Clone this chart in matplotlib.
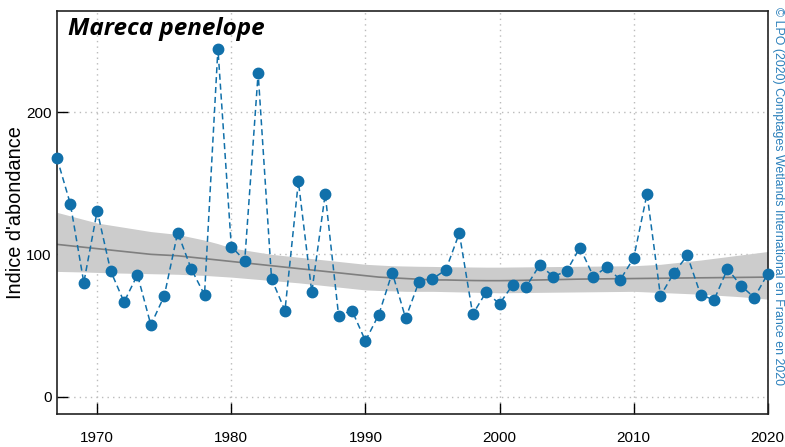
import matplotlib
matplotlib.use("Agg")
import matplotlib.pyplot as plt
import numpy as np

years = list(range(1967, 2021))
index_values = [167.6, 135.3, 80.2, 130.6, 88.4, 66.5, 85.6, 50.4, 70.8, 115.3,
                90.0, 71.5, 244.5, 105.5, 95.6, 227.4, 82.8, 60.5, 151.2, 73.4,
                142.5, 57.0, 60.5, 39.2, 57.7, 87.2, 55.1, 80.9, 82.8, 89.1,
                114.9, 57.9, 73.4, 65.2, 78.8, 77.4, 92.6, 84.4, 88.2, 104.8,
                84.4, 91.0, 82.1, 97.3, 142.5, 70.8, 86.8, 99.2, 71.5, 68.0,
                89.8, 78.0, 69.6, 86.3]

trend = [107, 106, 105, 104, 103, 102, 101, 100, 99.5, 99, 98, 97, 96, 95,
         94, 93, 92, 91, 90, 89, 88, 87, 86, 85, 84, 83.5, 83, 82.5, 82, 82,
         81.8, 81.6, 81.5, 81.5, 81.6, 81.8, 82, 82.2, 82.4, 82.6, 82.7, 82.8,
         82.9, 83, 83.1, 83.2, 83.3, 83.4, 83.5, 83.6, 83.7, 83.8, 83.9, 84]
trend_low = [88, 87.8, 87.6, 87.3, 87, 86.8, 86.6, 86.4, 86.2, 86, 85.6, 85.2,
             84.6, 84, 83.2, 82.4, 81.6, 80.8, 80, 79, 78, 77, 76, 75, 74.6,
             74.3, 74, 74, 74, 73.8, 73.6, 73.4, 73.2, 73, 73.1, 73.2, 73.3,
             73.4, 73.5, 73.6, 73.7, 73.8, 73.9, 74, 73.6, 73.2, 72.8, 72.4,
             72, 71.4, 70.8, 70.2, 69.4, 68.5]
trend_high = [129.5, 127, 124.5, 122, 120.5, 119, 117.5, 116, 115, 114, 112,
              110, 107.5, 104.5, 103, 101.5, 100, 99, 98, 97, 96, 95, 94, 93,
              92.5, 92, 91.8, 91.6, 91.5, 91.3, 91.2, 91.1, 91, 91, 91.1, 91.2,
              91.3, 91.4, 91.5, 91.6, 91.7, 91.8, 91.9, 92, 92.5, 93, 94, 95,
              96, 97.2, 98.4, 99.6, 100.8, 102]

x_ticks = [1970, 1980, 1990, 2000, 2010, 2020]
y_ticks = [0, 100, 200]

species = "Mareca penelope"
y_label = "Indice d'abondance"
credit = "© LPO (2020) Comptages Wetlands International en France en 2020"

blue = "#1170aa"
plt.rcParams['font.family'] = ['Liberation Sans Narrow', 'Liberation Sans', 'DejaVu Sans']

fig = plt.figure(figsize=(7.85, 4.47), dpi=100)
ax = fig.add_axes([0.0726, 0.0738, 0.9054, 0.9016])

ax.fill_between(years, trend_low, trend_high, color="#cccccc", lw=0, zorder=1)
ax.plot(years, trend, color="#7f7f7f", lw=1.2, zorder=2)
ax.plot(years, index_values, color=blue, lw=1.1, ls=(0, (4, 2.5)), zorder=3)
ax.plot(years, index_values, ls="none", marker="o", ms=7.5, color=blue,
        zorder=4, clip_on=False)

ax.set_xlim(1967, 2020)
ax.set_ylim(-12.2, 271)
ax.set_xticks(x_ticks)
ax.set_yticks(y_ticks)
ax.tick_params(axis='both', direction='in', length=8, width=1, labelsize=11,
               colors='black')
ax.tick_params(axis='x', pad=12)
ax.tick_params(axis='y', pad=4)
ax.grid(True, ls=(0, (1, 3)), color="#bbbbbb", lw=1)
ax.set_axisbelow(True)
for s in ax.spines.values():
    s.set_linewidth(1.2)
    s.set_color("#222222")

ax.set_ylabel(y_label, fontsize=14.3, family=['Liberation Sans', 'DejaVu Sans'])
ax.yaxis.set_label_coords(-0.045, 0.5)
ax.text(0.015, 0.985, species, transform=ax.transAxes, ha='left', va='top',
        fontsize=17.5, fontweight='bold', fontstyle='italic',
        family=['Open Sans', 'DejaVu Sans'])
fig.text(0.991, 0.985, credit, rotation=-90, ha='center', va='top',
         fontsize=8.9, color="#2a7fba", family=['Liberation Sans', 'DejaVu Sans'])

fig.savefig("out.png", dpi=100)
